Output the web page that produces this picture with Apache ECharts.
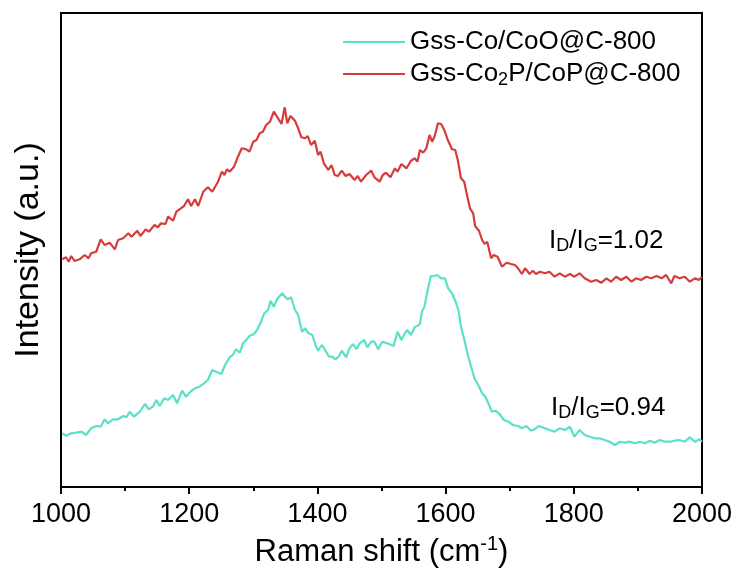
<!DOCTYPE html>
<html><head><meta charset="utf-8">
<script src="https://cdn.jsdelivr.net/npm/echarts@6/dist/echarts.min.js"></script>
<style>html,body{margin:0;padding:0;background:#fff}#c{width:739px;height:574px}</style>
</head><body><div id="c"></div>
<script>
// Raman shift (cm-1)
const redX = [1002,1008,1012,1016,1021,1029,1037,1043,1047,1055,1062,1068,1076,1084,1089,1097,1105,1110,1119,1124,1132,1137,1146,1151,1156,1163,1167,1175,1180,1187,1192,1198,1203,1209,1214,1222,1229,1236,1242,1245,1251,1255,1259,1263,1270,1276,1282,1289,1294,1300,1305,1310,1315,1320,1326,1332,1337,1344,1349,1353,1358,1365,1370,1375,1381,1385,1390,1396,1401,1405,1410,1417,1422,1427,1432,1438,1444,1450,1458,1463,1468,1476,1484,1489,1497,1502,1507,1514,1521,1525,1531,1539,1546,1552,1556,1560,1565,1570,1575,1579,1583,1588,1593,1598,1603,1606,1610,1615,1619,1624,1629,1634,1638,1643,1646,1652,1657,1661,1665,1671,1675,1681,1688,1695,1702,1708,1713,1719,1724,1731,1736,1741,1747,1755,1762,1770,1778,1786,1794,1801,1809,1817,1827,1835,1843,1851,1858,1866,1874,1882,1890,1897,1905,1913,1921,1929,1937,1944,1952,1957,1965,1973,1981,1989,1995,2000];
const redY = [227.7,229.7,225.3,231,226,227.7,232,228.7,233.7,235.3,247.7,242,244.3,237.7,247,248.7,253.7,250.3,256.3,251,257.7,255.3,262,259.7,263.7,263,270.3,266.3,275.3,278.7,281,287.7,281,287.7,281,295.3,299.7,295.3,302,305.3,315.3,312,317.7,315.3,320.3,330.3,338.7,337.7,335.3,345.3,347,353.7,355.3,362,365.3,375.3,370.3,363,379.7,363.7,371,366.3,358.7,349.7,348.7,351,342,346.3,332,335.3,323.7,317,322,312,311,316.3,311,313,307,311,305.3,312,316.3,309.7,305.3,312,314.3,309.7,318.7,315.3,323,318.7,326.3,328.7,325.3,337,334.3,338.7,352,345.3,351,363.7,363,357,347.7,347.7,337.7,337,327,308.7,305.3,290.3,278.7,273.7,261,256.3,247,243,245.3,228.7,232,230.3,220.3,224.3,223,222,218.7,213,218.7,213,216.3,213,215.3,213.7,215.3,210.3,213.7,210.3,213,210.3,213.7,208.7,205.3,207,204.3,208.7,205.3,210.3,207,210.3,205.3,208.7,207,210.3,208.7,211,208.7,212,203.7,211,208.7,210.3,205.3,208.7,207,210.3];
const cyanX = [1002,1008,1016,1024,1032,1039,1047,1055,1062,1068,1073,1081,1089,1097,1102,1107,1114,1123,1131,1137,1144,1149,1154,1161,1167,1175,1181,1189,1195,1202,1209,1216,1223,1229,1236,1242,1250,1256,1263,1268,1273,1279,1284,1289,1294,1301,1306,1312,1317,1323,1327,1332,1337,1345,1350,1354,1359,1365,1370,1376,1381,1386,1392,1397,1401,1407,1412,1418,1423,1428,1433,1438,1445,1450,1456,1461,1466,1473,1478,1484,1489,1495,1501,1509,1515,1519,1525,1531,1535,1540,1546,1552,1556,1560,1563,1567,1571,1577,1582,1587,1593,1599,1604,1610,1615,1620,1624,1630,1634,1639,1645,1651,1657,1662,1669,1672,1678,1684,1691,1698,1705,1713,1719,1726,1733,1739,1745,1755,1762,1770,1778,1786,1794,1801,1809,1817,1825,1833,1840,1848,1856,1864,1872,1879,1887,1895,1903,1911,1919,1926,1934,1942,1950,1957,1965,1973,1981,1989,1996,2000];
const cyanY = [53.7,51.3,53.7,54.3,55.3,52,58.7,61,60.3,67.7,63.7,67.7,67.7,71,69.7,75.3,70.3,75.3,83,77.7,81,87,81,88.7,87,92,83.7,96.3,90.3,95.3,98.7,100.3,103.7,107,117,115.3,113,122,129.7,132,137.7,134.3,143.7,147,151,153,157,165.3,173.7,177,186.3,180.3,187.7,193.7,189.7,187.7,189.7,177,172,155.3,158.7,153.7,152,142,136.3,142,137,130.3,130.3,127.7,130.3,136.3,129.7,138.7,143,137.7,143.7,147,139.7,145.3,145.3,137.7,145.3,143.7,142,141,155.3,147,152,157,152,160.3,161,163,175.3,180.3,193.7,211,211,212,208.7,208.7,198.7,193.7,186.3,177,160.3,145.3,133.7,122,108.7,102,93.7,90.3,80.3,75.3,76.3,73,67,65.3,62,61,58.7,61,56.3,57.7,61,58.7,57,55.3,58.7,57,60.3,50.3,57,52,50.3,48.7,48.7,47,45.3,42,45.3,44.3,45.3,43.7,45.3,43.7,46.3,44.3,47,45.3,45.3,46.3,47,45.3,49.7,45.3,47.7,45.3];
const seriesNames = ['Gss-Co/CoO@C-800', 'Gss-Co2P/CoP@C-800'];
const xTicks = [1000, 1200, 1400, 1600, 1800, 2000];

const FONT = 'Arial, "Liberation Sans", sans-serif';
const chart = echarts.init(document.getElementById('c'), null, {renderer: 'canvas'});
const zip = (xs, ys) => xs.map((x, i) => [x, ys[i]]);
const CYAN = '#5ce1c8', RED = '#d63c3c';
chart.setOption({
  animation: false,
  backgroundColor: '#fff',
  grid: {left: 61, right: 37, top: 13, bottom: 87, outerBoundsMode: 'none', containLabel: false,
    show: true, borderColor: '#000', borderWidth: 2, backgroundColor: 'transparent'},
  legend: {
    orient: 'vertical', left: 338, top: 22, itemWidth: 62, itemHeight: 2, itemGap: 2,
    icon: 'rect',
    data: [{name: seriesNames[0], itemStyle: {color: CYAN}}, {name: seriesNames[1], itemStyle: {color: RED}}],
    formatter: n => n === seriesNames[1] ? 'Gss-Co{sub|2}P/CoP@C-800' : n,
    textStyle: {fontFamily: FONT, fontSize: 26, color: '#000', lineHeight: 30,
      rich: {sub: {fontFamily: FONT, fontSize: 18, lineHeight: 12, verticalAlign: 'bottom', color: '#000'}}}
  },
  xAxis: {
    type: 'value', min: xTicks[0], max: xTicks[xTicks.length - 1], interval: 200,
    name: 'Raman shift (cm{sup|-1})', nameLocation: 'middle', nameGap: 47,
    nameTextStyle: {fontFamily: FONT, fontSize: 31, color: '#000', lineHeight: 36,
      rich: {sup: {fontFamily: FONT, fontSize: 20, verticalAlign: 'top', lineHeight: 14, color: '#000'}}},
    axisLine: {lineStyle: {color: '#000', width: 2}},
    axisTick: {show: true, inside: false, length: 7, lineStyle: {color: '#000', width: 2}},
    minorTick: {show: true, splitNumber: 2, length: 4, lineStyle: {color: '#000', width: 2}},
    axisLabel: {fontFamily: FONT, fontSize: 27, color: '#000', margin: 14, formatter: v => String(v)},
    splitLine: {show: false}
  },
  yAxis: {
    type: 'value', min: 0, max: 474,
    name: 'Intensity (a.u.)', nameLocation: 'middle', nameGap: 15,
    nameTextStyle: {fontFamily: FONT, fontSize: 34, color: '#000'},
    axisLine: {show: true, lineStyle: {color: '#000', width: 2}},
    axisTick: {show: false}, axisLabel: {show: false}, splitLine: {show: false}
  },
  graphic: [
    {type: 'text', left: 549, top: 227, style: {text: 'I{s|D}/I{s|G}=1.02', fontFamily: FONT, fontSize: 26, fill: '#000', lineHeight: 28,
      rich: {s: {fontFamily: FONT, fontSize: 18, lineHeight: 10, verticalAlign: 'bottom', fill: '#000'}}}},
    {type: 'text', left: 551, top: 394, style: {text: 'I{s|D}/I{s|G}=0.94', fontFamily: FONT, fontSize: 26, fill: '#000', lineHeight: 28,
      rich: {s: {fontFamily: FONT, fontSize: 18, lineHeight: 10, verticalAlign: 'bottom', fill: '#000'}}}}
  ],
  series: [
    {name: seriesNames[0], type: 'line', data: zip(cyanX, cyanY), showSymbol: false, symbol: 'none',
      lineStyle: {color: CYAN, width: 2.2}, itemStyle: {color: CYAN}},
    {name: seriesNames[1], type: 'line', data: zip(redX, redY), showSymbol: false, symbol: 'none',
      lineStyle: {color: RED, width: 2.2}, itemStyle: {color: RED}}
  ]
});
</script></body></html>
